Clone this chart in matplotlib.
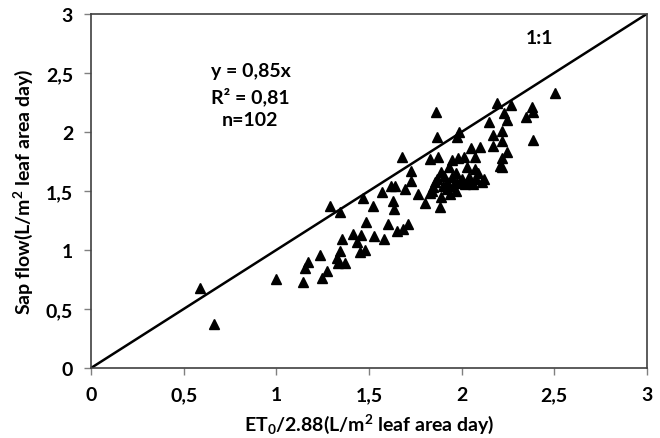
import matplotlib
matplotlib.use("Agg")
import matplotlib.pyplot as plt

et0 = [0.59, 0.665, 1.00, 1.146, 1.155, 1.17, 1.236, 1.245, 1.275, 1.29,
       1.33, 1.335, 1.344, 1.344, 1.353, 1.371, 1.412, 1.437, 1.455, 1.452,
       1.479, 1.47, 1.484, 1.52, 1.527, 1.569, 1.58, 1.605, 1.62, 1.64,
       1.632, 1.635, 1.65, 1.677, 1.686, 1.695, 1.712, 1.725, 1.725, 1.766,
       1.80, 1.83, 1.84, 1.844, 1.856, 1.862, 1.866, 1.873, 1.883, 1.89,
       1.89, 1.905, 1.92, 1.92, 1.937, 1.947, 1.956, 1.97, 1.973, 1.977,
       1.988, 1.98, 1.99, 2.013, 2.018, 2.038, 2.045, 2.05, 2.063, 2.07,
       2.07, 2.10, 2.108, 2.146, 2.168, 2.168, 2.19, 2.207, 2.216, 2.216,
       2.22, 2.227, 2.243, 2.243, 2.265, 2.22, 2.346, 2.378, 2.383, 2.387,
       2.506, 1.87, 1.95, 2.00, 2.08, 2.03, 1.93, 1.90, 1.97, 2.09,
       2.12, 1.83]
sap = [0.68, 0.37, 0.75, 0.73, 0.85, 0.90, 0.96, 0.76, 0.82, 1.37,
       0.93, 0.89, 1.32, 0.99, 1.09, 0.89, 1.135, 1.07, 1.125, 0.98,
       1.00, 1.44, 1.24, 1.375, 1.116, 1.494, 1.09, 1.22, 1.54, 1.54,
       1.418, 1.347, 1.164, 1.79, 1.178, 1.517, 1.22, 1.67, 1.587, 1.475,
       1.40, 1.77, 1.50, 1.53, 1.574, 2.17, 1.96, 1.785, 1.36, 1.66,
       1.446, 1.63, 1.574, 1.517, 1.475, 1.765, 1.545, 1.65, 1.568, 1.955,
       2.00, 1.78, 1.574, 1.785, 1.56, 1.616, 1.587, 1.86, 1.56, 1.79,
       1.69, 1.87, 1.574, 2.087, 1.975, 1.88, 2.245, 1.714, 1.777, 1.92,
       2.01, 2.16, 2.10, 1.83, 2.23, 1.70, 2.13, 2.21, 2.17, 1.93,
       2.33, 1.60, 1.62, 1.60, 1.60, 1.70, 1.70, 1.54, 1.50, 1.65,
       1.60, 1.48]

ticks = [0, 0.5, 1, 1.5, 2, 2.5, 3]
tick_labels = ["0", "0,5", "1", "1,5", "2", "2,5", "3"]

plt.rcParams['font.family'] = ['Lato', 'DejaVu Sans']
plt.rcParams['mathtext.fontset'] = 'custom'
plt.rcParams['mathtext.rm'] = 'Lato:bold'
plt.rcParams['mathtext.it'] = 'Lato:bold'
plt.rcParams['mathtext.bf'] = 'Lato:bold'
plt.rcParams['mathtext.default'] = 'rm'

fig = plt.figure(figsize=(6.6, 4.39), dpi=100)
ax = fig.add_axes([0.138, 0.1595, 0.842, 0.8065])

ax.plot([0, 3], [0, 3], color='black', lw=1.8, zorder=2)
ax.plot(et0, sap, linestyle='none', marker='^', color='black', markersize=7.5, zorder=3)

ax.set_xlim(0, 3)
ax.set_ylim(0, 3)
ax.set_xticks(ticks)
ax.set_xticklabels(tick_labels)
ax.set_yticks(ticks)
ax.set_yticklabels(tick_labels)
ax.tick_params(direction='out', length=5, width=1, color='#808080',
               labelsize=14, pad=8)
for lab in ax.get_xticklabels() + ax.get_yticklabels():
    lab.set_fontweight('bold')
for s in ax.spines.values():
    s.set_color('#404040')
    s.set_linewidth(1.2)

ax.set_xlabel(r"ET$_0$/2.88(L/m$^2$ leaf area day)", fontsize=14, fontweight='bold', labelpad=6)
ax.set_ylabel(r"Sap flow(L/m$^2$ leaf area day)", fontsize=14, fontweight='bold', labelpad=8)

ax.text(0.86, 2.31, "y = 0,85x\nR² = 0,81\nn=102", ha='center', va='center',
        fontsize=14, fontweight='bold', linespacing=1.45)
ax.text(2.42, 2.8, "1:1", ha='center', va='center', fontsize=14, fontweight='bold')

fig.savefig("out.png", dpi=100)
